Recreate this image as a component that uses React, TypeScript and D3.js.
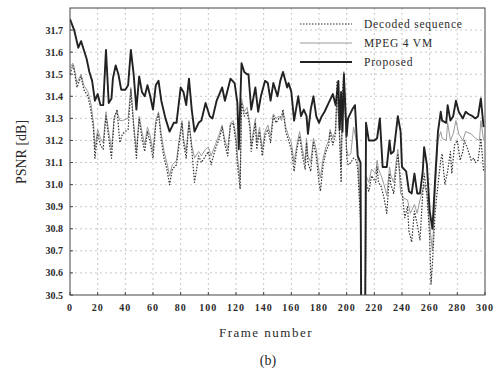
import * as d3 from "d3";

// frame number, PSNR [dB]
const decoded: [number, number][] = [
  [0, 31.5], [2, 31.54], [3, 31.52], [5, 31.44], [8, 31.49], [10, 31.43], [13, 31.4], [15, 31.34],
  [17, 31.25], [18, 31.12], [20, 31.23], [22, 31.18], [24, 31.16], [26, 31.31], [28, 31.21], [30, 31.12],
  [32, 31.3], [34, 31.34], [36, 31.19], [38, 31.23], [42, 31.25], [44, 31.43], [46, 31.26], [48, 31.12],
  [50, 31.3], [52, 31.21], [54, 31.15], [56, 31.24], [58, 31.19], [60, 31.12], [62, 31.27], [64, 31.32],
  [66, 31.2], [68, 31.12], [70, 31.07], [72, 31.0], [74, 31.07], [77, 31.09], [79, 31.19], [81, 31.28],
  [82, 31.19], [84, 31.12], [86, 31.28], [88, 31.16], [90, 31.01], [93, 31.13], [95, 31.1], [98, 31.13],
  [100, 31.15], [102, 31.09], [105, 31.16], [108, 31.21], [110, 31.26], [112, 31.18], [114, 31.13], [116, 31.27],
  [118, 31.28], [120, 31.19], [121, 31.09], [123, 30.98], [124, 31.37], [126, 31.31], [128, 31.33], [130, 31.26],
  [131, 31.15], [134, 31.28], [135, 31.16], [137, 31.24], [139, 31.13], [141, 31.22], [143, 31.25], [145, 31.19],
  [147, 31.31], [149, 31.28], [151, 31.3], [153, 31.31], [154, 31.34], [156, 31.24], [158, 31.2], [160, 31.16],
  [162, 31.06], [164, 31.16], [166, 31.22], [168, 31.13], [170, 31.07], [171, 31.19], [172, 31.1], [174, 31.06],
  [176, 31.19], [178, 31.13], [180, 31.01], [181, 30.97], [183, 31.09], [185, 31.15], [187, 31.18], [188, 31.24],
  [190, 31.18], [192, 31.23], [193, 31.47], [195, 31.19], [196, 31.01], [197, 31.42], [198, 31.51], [200, 31.13],
  [201, 31.09], [203, 31.1], [205, 31.12], [207, 31.11], [208, 31.07], [209, 30.95], [210, 30.84], [212, 28.5],
  [214, 31.01], [216, 30.97], [218, 31.04], [221, 31.01], [222, 31.08], [223, 31.01], [225, 30.99], [227, 30.94],
  [229, 30.87], [231, 31.05], [232, 31.0], [234, 30.96], [237, 31.14], [238, 31.08], [240, 30.97], [242, 30.85],
  [244, 30.9], [245, 30.79], [247, 30.74], [249, 30.88], [251, 30.82], [253, 30.75], [255, 30.96], [256, 31.05],
  [258, 30.96], [260, 30.76], [261, 30.55], [262, 30.64], [264, 30.88], [266, 31.0], [268, 31.11], [269, 31.14],
  [271, 31.0], [273, 31.06], [275, 31.15], [276, 31.05], [278, 31.18], [280, 31.2], [282, 31.11], [284, 31.15],
  [285, 31.2], [287, 31.17], [290, 31.11], [292, 31.12], [293, 31.1], [295, 31.11], [297, 31.21], [299, 31.06],
];

const mpeg4: [number, number][] = [
  [0, 31.53], [2, 31.55], [3, 31.53], [5, 31.46], [8, 31.5], [10, 31.45], [13, 31.42], [15, 31.37],
  [17, 31.28], [18, 31.16], [20, 31.25], [22, 31.21], [24, 31.19], [26, 31.33], [28, 31.24], [30, 31.16],
  [32, 31.31], [34, 31.33], [36, 31.29], [38, 31.29], [42, 31.3], [44, 31.44], [46, 31.28], [48, 31.15],
  [50, 31.31], [52, 31.24], [54, 31.18], [56, 31.26], [58, 31.22], [60, 31.15], [62, 31.29], [64, 31.33],
  [66, 31.23], [68, 31.15], [70, 31.1], [72, 31.04], [74, 31.09], [77, 31.11], [79, 31.21], [81, 31.29],
  [82, 31.21], [84, 31.15], [86, 31.29], [88, 31.18], [90, 31.12], [93, 31.15], [95, 31.13], [98, 31.16],
  [100, 31.17], [102, 31.13], [105, 31.18], [108, 31.23], [110, 31.27], [112, 31.2], [114, 31.16], [116, 31.28],
  [118, 31.29], [120, 31.22], [121, 31.13], [123, 31.02], [124, 31.39], [126, 31.33], [128, 31.35], [130, 31.28],
  [131, 31.18], [134, 31.3], [135, 31.19], [137, 31.26], [139, 31.16], [141, 31.24], [143, 31.27], [145, 31.22],
  [147, 31.32], [149, 31.3], [151, 31.31], [153, 31.29], [154, 31.33], [156, 31.26], [158, 31.22], [160, 31.19],
  [162, 31.1], [164, 31.18], [166, 31.24], [168, 31.16], [170, 31.1], [171, 31.21], [172, 31.13], [174, 31.1],
  [176, 31.21], [178, 31.16], [180, 31.06], [181, 31.03], [183, 31.12], [185, 31.17], [187, 31.2], [188, 31.25],
  [190, 31.21], [192, 31.25], [193, 31.4], [195, 31.22], [196, 31.08], [197, 31.36], [198, 31.44], [200, 31.16],
  [201, 31.13], [203, 31.14], [205, 31.26], [207, 31.2], [208, 31.12], [209, 31.0], [210, 30.92], [212, 28.5],
  [214, 31.04], [216, 31.01], [218, 31.07], [221, 31.05], [222, 31.11], [223, 31.07], [225, 31.04], [227, 31.0],
  [229, 30.95], [231, 31.08], [232, 31.04], [234, 31.01], [237, 31.16], [239, 30.96], [241, 30.94], [244, 30.93],
  [246, 30.87], [249, 30.91], [251, 30.87], [253, 30.93], [256, 31.0], [258, 30.96], [260, 30.82], [262, 30.7],
  [264, 30.97], [266, 31.2], [268, 31.24], [269, 31.21], [272, 31.2], [273, 31.28], [275, 31.2], [277, 31.23],
  [279, 31.29], [281, 31.23], [284, 31.2], [286, 31.24], [290, 31.23], [293, 31.21], [296, 31.2], [297, 31.29],
  [299, 31.2],
];

const proposed: [number, number][] = [
  [0, 31.75], [3, 31.7], [6, 31.62], [8, 31.65], [10, 31.61], [12, 31.57], [14, 31.51], [16, 31.47],
  [18, 31.38], [20, 31.41], [22, 31.36], [24, 31.36], [26, 31.61], [28, 31.37], [30, 31.39], [31, 31.48],
  [33, 31.54], [35, 31.5], [37, 31.43], [40, 31.43], [42, 31.45], [44, 31.61], [46, 31.5], [48, 31.34],
  [50, 31.49], [52, 31.42], [54, 31.4], [56, 31.45], [58, 31.4], [60, 31.34], [62, 31.45], [64, 31.47],
  [66, 31.38], [69, 31.3], [72, 31.24], [75, 31.28], [77, 31.28], [80, 31.44], [82, 31.42], [84, 31.36],
  [86, 31.48], [88, 31.34], [90, 31.24], [93, 31.28], [95, 31.29], [98, 31.37], [101, 31.31], [103, 31.3],
  [106, 31.38], [108, 31.41], [110, 31.44], [112, 31.38], [114, 31.43], [116, 31.48], [119, 31.46], [121, 31.37],
  [122, 31.16], [124, 31.55], [126, 31.51], [128, 31.5], [129, 31.5], [131, 31.34], [134, 31.44], [136, 31.33],
  [138, 31.4], [141, 31.47], [143, 31.46], [145, 31.38], [147, 31.46], [150, 31.4], [152, 31.47], [154, 31.51],
  [157, 31.44], [158, 31.46], [160, 31.42], [162, 31.29], [165, 31.4], [167, 31.31], [169, 31.34], [171, 31.31],
  [172, 31.23], [174, 31.34], [176, 31.4], [178, 31.31], [180, 31.28], [182, 31.31], [184, 31.33], [187, 31.37],
  [190, 31.41], [192, 31.36], [194, 31.47], [195, 31.25], [196, 31.42], [197, 31.24], [198, 31.5], [200, 31.22],
  [201, 31.3], [204, 31.34], [206, 31.36], [208, 31.13], [210, 31.1], [212, 28.5], [214, 31.28], [216, 31.2],
  [220, 31.2], [222, 31.21], [224, 31.3], [226, 31.08], [229, 31.08], [231, 31.2], [232, 31.14], [234, 31.15],
  [237, 31.31], [239, 31.24], [240, 31.08], [243, 31.06], [245, 30.97], [247, 30.96], [249, 31.05], [251, 30.96],
  [253, 30.96], [255, 31.06], [256, 31.17], [258, 31.09], [260, 30.88], [262, 30.8], [264, 31.03], [266, 31.24],
  [268, 31.33], [269, 31.29], [272, 31.28], [273, 31.36], [275, 31.29], [277, 31.31], [279, 31.38], [281, 31.33],
  [284, 31.3], [286, 31.33], [288, 31.32], [291, 31.31], [293, 31.3], [295, 31.31], [297, 31.39], [299, 31.26],
];

const xTicks = [0, 20, 40, 60, 80, 100, 120, 140, 160, 180, 200, 220, 240, 260, 280, 300];
const yTicks = [30.5, 30.6, 30.7, 30.8, 30.9, 31.0, 31.1, 31.2, 31.3, 31.4, 31.5, 31.6, 31.7];

const legendItems = [
  { label: "Decoded sequence", color: "#333", width: 1.2, dash: "1.5 1.5" },
  { label: "MPEG 4 VM", color: "#9a9a9a", width: 1, dash: "none" },
  { label: "Proposed", color: "#222", width: 1.9, dash: "none" },
];

export default function App() {
  const width = 504;
  const height = 378;
  const left = 70;
  const right = 485;
  const top = 8;
  const bottom = 295;

  const x = d3.scaleLinear().domain([0, 300]).range([left, right]);
  const y = d3.scaleLinear().domain([30.5, 31.8]).range([bottom, top]);
  const fmt = d3.format(".1f");

  const line = d3
    .line<[number, number]>()
    .x((d) => x(d[0]))
    .y((d) => y(d[1]));

  const serif = "'Liberation Serif', 'DejaVu Serif', serif";

  return (
    <svg
      width={width}
      height={height}
      style={{ position: "absolute", left: 0, top: 0, background: "#fff" }}
    >
      <defs>
        <clipPath id="plot">
          <rect x={left} y={top} width={right - left} height={bottom - top} />
        </clipPath>
      </defs>

      {/* grid */}
      <g stroke="#b8b8b8" strokeWidth={0.8} strokeDasharray="2 3">
        {yTicks.slice(1).map((t) => (
          <line key={"gy" + t} x1={left} x2={right} y1={y(t)} y2={y(t)} />
        ))}
        {xTicks.slice(1, -1).map((t) => (
          <line key={"gx" + t} x1={x(t)} x2={x(t)} y1={top} y2={bottom} />
        ))}
      </g>

      {/* series */}
      <g clipPath="url(#plot)" fill="none" strokeLinejoin="round">
        <path d={line(mpeg4) ?? ""} stroke="#9a9a9a" strokeWidth={1} />
        <path d={line(decoded) ?? ""} stroke="#333" strokeWidth={1.2} strokeDasharray="1.5 1.5" />
        <path d={line(proposed) ?? ""} stroke="#222" strokeWidth={1.9} />
      </g>

      {/* frame */}
      <rect x={left} y={top} width={right - left} height={bottom - top} fill="none" stroke="#444" strokeWidth={1} />

      {/* ticks */}
      <g stroke="#444" strokeWidth={1}>
        {xTicks.map((t) => (
          <line key={"tx" + t} x1={x(t)} x2={x(t)} y1={bottom} y2={bottom - 3} />
        ))}
        {yTicks.map((t) => (
          <line key={"ty" + t} x1={left} x2={left + 3} y1={y(t)} y2={y(t)} />
        ))}
      </g>

      {/* tick labels */}
      <g fontFamily={serif} fontWeight="bold" fontSize={10} fill="#2a2a2a">
        {xTicks.map((t) => (
          <text key={"lx" + t} x={x(t)} y={bottom + 16} textAnchor="middle" letterSpacing={1}>
            {t}
          </text>
        ))}
        {yTicks.map((t) => (
          <text key={"ly" + t} x={left - 7} y={y(t) + 3.5} textAnchor="end">
            {fmt(t)}
          </text>
        ))}
      </g>

      {/* axis titles */}
      <text
        x={266}
        y={337}
        textAnchor="middle"
        fontFamily={serif}
        fontSize={13}
        letterSpacing={1.5}
        fill="#2a2a2a"
      >
        Frame number
      </text>
      <text
        transform="translate(26,152) rotate(-90)"
        textAnchor="middle"
        fontFamily={serif}
        fontSize={14}
        fill="#2a2a2a"
      >
        PSNR [dB]
      </text>
      <text x={268} y={365} textAnchor="middle" fontFamily={serif} fontSize={14} fill="#2a2a2a">
        (b)
      </text>

      {/* legend */}
      {legendItems.map((d, i) => (
        <g key={d.label} transform={`translate(300,${24 + i * 19})`}>
          <line x1={0} x2={52} y1={0} y2={0} stroke={d.color} strokeWidth={d.width} strokeDasharray={d.dash} />
          <text x={64} y={4} fontFamily={serif} fontSize={11.5} letterSpacing={0.8} fill="#2a2a2a">
            {d.label}
          </text>
        </g>
      ))}
    </svg>
  );
}
